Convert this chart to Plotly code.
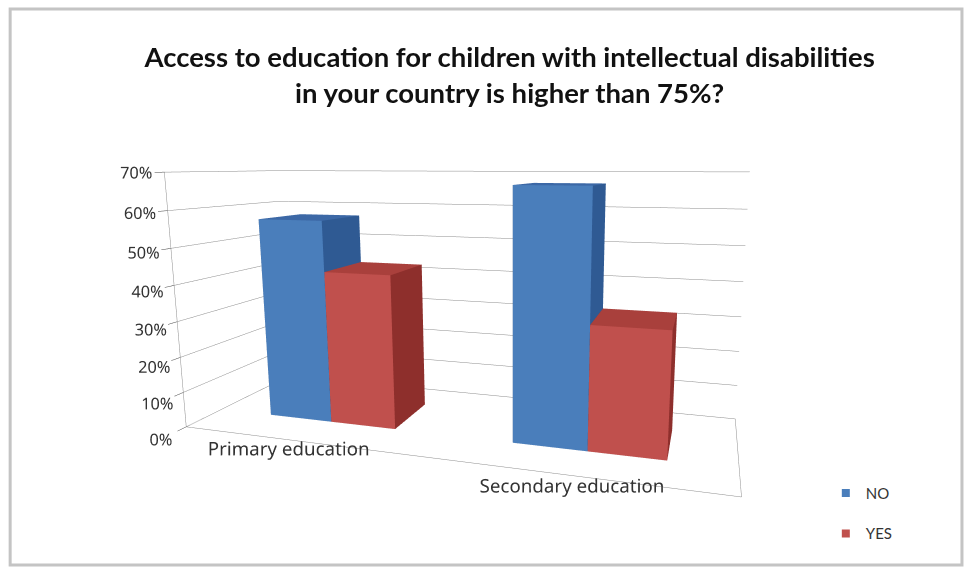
import plotly.graph_objects as go

categories = ["Primary education", "Secondary education"]
series_names = ["NO", "YES"]
no_values = [0.57, 0.67]
yes_values = [0.43, 0.33]
z_ticks = [0, 0.1, 0.2, 0.3, 0.4, 0.5, 0.6, 0.7]

front_colors = {"NO": "#4a7ebb", "YES": "#c0504d"}
top_colors = {"NO": "#3c68a6", "YES": "#a9403c"}
side_colors = {"NO": "#2f5a93", "YES": "#8e2f2c"}

BAR_W = 0.27
Y0, Y1 = 0.3, 0.72


def box_mesh(x0, x1, y0, y1, h, name):
    xs = [x0, x1, x1, x0, x0, x1, x1, x0]
    ys = [y0, y0, y1, y1, y0, y0, y1, y1]
    zs = [0, 0, 0, 0, h, h, h, h]
    faces = [
        (0, 1, 5, "front"), (0, 5, 4, "front"),
        (4, 5, 6, "top"), (4, 6, 7, "top"),
        (1, 2, 6, "side"), (1, 6, 5, "side"),
        (0, 3, 7, "side"), (0, 7, 4, "side"),
        (3, 2, 6, "side"), (3, 6, 7, "side"),
        (0, 1, 2, "side"), (0, 2, 3, "side"),
    ]
    cmap = {"front": front_colors[name], "top": top_colors[name], "side": side_colors[name]}
    return go.Mesh3d(
        x=xs, y=ys, z=zs,
        i=[f[0] for f in faces], j=[f[1] for f in faces], k=[f[2] for f in faces],
        facecolor=[cmap[f[3]] for f in faces],
        flatshading=True,
        lighting=dict(ambient=1, diffuse=0, specular=0, roughness=1, fresnel=0),
        showlegend=False, hoverinfo="skip",
    )


fig = go.Figure()
for ci, cat in enumerate(categories):
    fig.add_trace(box_mesh(ci - BAR_W, ci, Y0, Y1, no_values[ci], "NO"))
    fig.add_trace(box_mesh(ci, ci + BAR_W, Y0, Y1, yes_values[ci], "YES"))

for gi, name in enumerate(series_names):
    fig.add_trace(go.Scatter3d(
        x=[None], y=[None], z=[None], mode="markers", name=name,
        legendgroup=name,
        marker=dict(symbol="square", size=8, color=front_colors[name]),
    ))

axis_common = dict(title="", showbackground=True, backgroundcolor="white",
                   showspikes=False, zeroline=False)

fig.update_layout(
    width=967, height=569,
    paper_bgcolor="white",
    font=dict(family="Lato", size=16, color="#333333"),
    title=dict(
        text="<b>Access to education for children with intellectual disabilities<br>in your country is higher than 75%?</b>",
        x=0.527, xanchor="center", y=0.882, yanchor="middle",
        font=dict(family="Lato", size=27.5, color="#111111"),
    ),
    margin=dict(l=0, r=0, t=0, b=0),
    scene=dict(
        domain=dict(x=[0.06, 1.0], y=[0.0, 1.0]),
        xaxis=dict(axis_common, range=[-0.5, 1.5], tickvals=[0, 1], ticktext=categories,
                   showgrid=False, showline=True, linecolor="#8c8c8c", ticks="",
                   tickangle=0, tickfont=dict(family="Noto Sans", size=15, color="#333333")),
        yaxis=dict(axis_common, range=[0, 1], showticklabels=False, showgrid=False,
                   showline=True, linecolor="#8c8c8c", ticks=""),
        zaxis=dict(axis_common, range=[0, 0.7], tickvals=z_ticks, tickformat=".0%",
                   showgrid=True, gridcolor="#8c8c8c", gridwidth=1,
                   showline=True, linecolor="#8c8c8c", ticks="outside", ticklen=4,
                   tickangle=0, tickfont=dict(family="Noto Sans", size=14, color="#333333")),
        aspectmode="manual",
        aspectratio=dict(x=2.1, y=0.7, z=1.0),
        camera=dict(eye=dict(x=0.92, y=-2.48, z=0.527), center=dict(x=0.2, y=0, z=0.077),
                    projection=dict(type="perspective")),
    ),
    legend=dict(x=0.854, y=0.162, xanchor="left", yanchor="top",
                tracegroupgap=18, font=dict(size=15, color="#333333")),
    shapes=[dict(type="rect", xref="paper", yref="paper", x0=0.0105, y0=0.007, x1=0.9948, y1=0.984,
                 line=dict(color="#c4c4c4", width=3))],
)

fig.write_html("out.html", post_script="document.body.style.margin='0';",
               config={"displayModeBar": False})
